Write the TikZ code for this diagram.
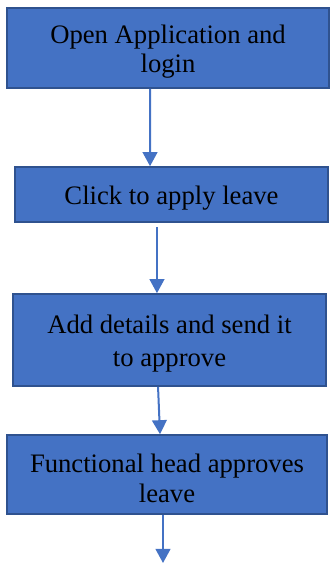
\documentclass[tikz,border=0pt]{standalone}
\usepackage{fontspec}
\setmainfont{Liberation Serif}
\usetikzlibrary{arrows.meta}
\definecolor{boxblue}{HTML}{4472C4}
\definecolor{boxline}{HTML}{2F528F}
\newcommand{\topstrut}{\rule{0pt}{19.5pt}}

\begin{document}
\begin{tikzpicture}[x=0.75pt,y=0.75pt,
    stepbox/.style={draw=boxline,line width=1.2pt,fill=boxblue,inner sep=0pt,align=center,
      font=\fontsize{20}{22}\selectfont},
    flow/.style={draw=boxblue,line width=1.5pt,-{Triangle[width=11pt,length=10.5pt]}}]
    \useasboundingbox (0,0) rectangle (330,563);
    \node[stepbox,minimum width=241.5pt,minimum height=60pt] (open) at (168,515) {\topstrut Open Application and\\login};
    \node[stepbox,minimum width=234.75pt,minimum height=41.25pt] (click) at (171.5,368.5) {\topstrut Click to apply leave};
    \node[stepbox,minimum width=234.75pt,minimum height=69pt] (details) at (169.5,223) {\topstrut Add details and send it\\[2.5pt]to approve};
    \node[stepbox,minimum width=240pt,minimum height=59.25pt] (head) at (167,88.5) {\topstrut Functional head approves\\leave};
    \coordinate (end) at (163,0);
    \draw[flow] ([xshift=-13.5pt]open.south)--([xshift=-16.1pt]click.north);
    \draw[flow] ([xshift=-10.9pt,yshift=-3pt]click.south)--([xshift=-9.4pt]details.north);
    \draw[flow] ([xshift=-8.6pt]details.south)--([xshift=-5.25pt]head.north);
    \draw[flow] ([xshift=-3pt]head.south)--(end);
  \end{tikzpicture}
\end{document}
